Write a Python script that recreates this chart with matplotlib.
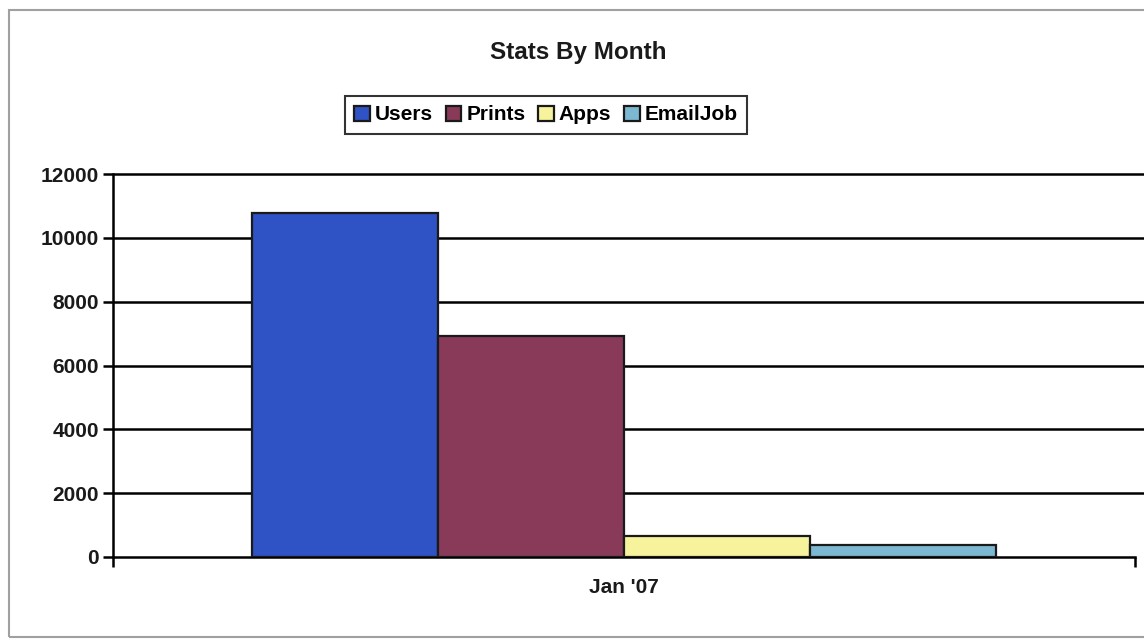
import matplotlib
matplotlib.use("Agg")
import matplotlib.pyplot as plt
from matplotlib.patches import Rectangle

# ── Data ──────────────────────────────────────────────────────────────────────
categories = ["Jan '07"]
series     = ["Users", "Prints", "Apps", "EmailJob"]
values     = [10780, 6920, 660, 370]
colors     = ["#2f52c4", "#883a58", "#f6f39c", "#7db8d2"]
yticks     = [0, 2000, 4000, 6000, 8000, 10000, 12000]
# ─────────────────────────────────────────────────────────────────────────────

plt.rcParams["font.family"] = ["Liberation Sans", "DejaVu Sans"]

fig = plt.figure(figsize=(11.44, 6.44), dpi=100)
fig.patch.set_facecolor("white")

# light grey chart border
fig.patches.append(Rectangle((9 / 1144, 1 - 637 / 644), 1 - 9 / 1144 + 0.01, 627 / 644,
                             transform=fig.transFigure, fill=False,
                             edgecolor="#a0a0a0", linewidth=1.5))

ax = fig.add_axes([113 / 1144, 1 - 557 / 644, 1022 / 1144, 383 / 644])

bar_w = 186 / 1022
n = len(series)
for i, (name, val, col) in enumerate(zip(series, values, colors)):
    x = (i - (n - 1) / 2) * bar_w
    ax.bar(x, val, width=bar_w, color=col, edgecolor="#1a1a1a",
           linewidth=1.6, label=name, zorder=3)

ax.set_xlim(-0.5, 0.5)
ax.set_ylim(0, 12000)
ax.set_yticks(yticks)
ax.set_yticklabels([str(t) for t in yticks], fontsize=15, fontweight="bold",
                   color="#1a1a1a")
# gridlines run on to the right edge of the picture
ax.hlines(yticks[1:], -0.5, 0.51, color="black", linewidth=1.8, zorder=1,
          clip_on=False)

ax.set_xticks([-0.5, 0.5])
ax.set_xticklabels(["", ""])
ax.text(0, -0.055, categories[0], transform=ax.get_xaxis_transform(),
        ha="center", va="top", fontsize=15, fontweight="bold", color="#1a1a1a")

ax.spines[["top", "right"]].set_visible(False)
ax.spines["left"].set_linewidth(1.8)
ax.spines["bottom"].set_linewidth(1.8)
ax.tick_params(axis="both", length=7, width=1.8, direction="out")
ax.tick_params(axis="y", pad=3)

fig.text(578 / 1144, 1 - 53 / 644, "Stats By Month", ha="center", va="center",
         fontsize=17.5, fontweight="bold", color="#1a1a1a")

leg = fig.legend(loc="center", bbox_to_anchor=(546 / 1144, 1 - 115 / 644), ncol=4,
                 frameon=True, fancybox=False, edgecolor="black",
                 prop={"weight": "bold", "size": 15},
                 handlelength=0.75, handleheight=0.75, handletextpad=0.25,
                 columnspacing=0.6, borderpad=0.45)
leg.get_frame().set_linewidth(1.5)

fig.savefig("out.png", dpi=100)
